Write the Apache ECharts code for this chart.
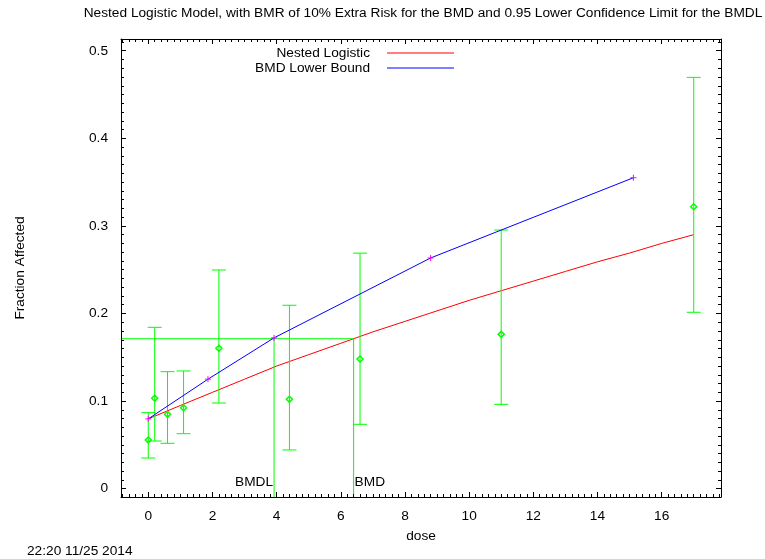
<!DOCTYPE html>
<html>
<head>
<meta charset="utf-8">
<script src="https://cdn.jsdelivr.net/npm/echarts@6/dist/echarts.min.js"></script>
<style>
  html, body { margin: 0; padding: 0; background: #ffffff; }
  #chart { width: 765px; height: 559px; }
</style>
</head>
<body>
<div id="chart"></div>
<script>
// Observed dose groups: mean fraction affected with confidence bars
const doses      = [0, 0.2, 0.6, 1.1, 2.2, 4.4, 6.6, 11, 17];
const observed   = [0.0556, 0.1032, 0.0849, 0.0925, 0.1603, 0.1020, 0.1480, 0.1762, 0.3219];
const lowerBars  = [0.0350, 0.0544, 0.0518, 0.0628, 0.0978, 0.0442, 0.0735, 0.0963, 0.2014];
const upperBars  = [0.0868, 0.1842, 0.1336, 0.1344, 0.2497, 0.2094, 0.2689, 0.2953, 0.4696];

// Fitted nested logistic model
const curveDoses  = [0, 1, 2, 3, 4, 5, 6, 7, 8, 9, 10, 11, 12, 13, 14, 15, 16, 17];
const curveValues = [0.0797, 0.095, 0.110, 0.125, 0.140, 0.153, 0.166, 0.179, 0.191,
                     0.203, 0.215, 0.226, 0.237, 0.248, 0.259, 0.269, 0.280, 0.290];

// BMD lower bound curve
const boundDoses  = [0, 1.86, 3.92, 8.8, 15.12];
const boundValues = [0.0797, 0.125, 0.1722, 0.2634, 0.355];

// Benchmark response level and doses
const bmrLevel = 0.1712;
const bmdl = 3.92;
const bmd = 6.4;

// Axis extents and tick spacing
const xMin = -0.85, xMax = 17.85, xStep = 2;
const yMin = -0.0095, yMax = 0.5134, yStep = 0.1;

const titleText = 'Nested Logistic Model, with BMR of 10% Extra Risk for the BMD and 0.95 Lower Confidence Limit for the BMDL';
const xName = 'dose';
const yName = 'Fraction Affected';
const stamp = '22:20 11/25 2014';

const FONT = '"Liberation Sans", Arial, sans-serif';
const FS = 13.7;
const GREEN = '#00ff00';

const chart = echarts.init(document.getElementById('chart'), null, { renderer: 'canvas' });

function frameAxis(extra) {
  return Object.assign({
    type: 'value',
    axisLine: { show: true, onZero: false, lineStyle: { color: '#000', width: 1 } },
    axisTick: { show: true, inside: true, length: 5, lineStyle: { color: '#000', width: 1 } },
    minorTick: { show: true, splitNumber: 10, length: 3, lineStyle: { color: '#000', width: 1 } },
    splitLine: { show: false },
    minorSplitLine: { show: false },
    axisLabel: { show: false },
    z: 10
  }, extra);
}

const labelStyle = { color: '#000', fontFamily: FONT, fontSize: FS, showMinLabel: false, showMaxLabel: false };
const nameStyle = { color: '#000', fontFamily: FONT, fontSize: FS };

const option = {
  animation: false,
  backgroundColor: '#ffffff',
  textStyle: { fontFamily: FONT },
  title: {
    text: titleText,
    left: 418, top: 1,
    textAlign: 'center',
    textStyle: { fontFamily: FONT, fontSize: FS, fontWeight: 'normal', color: '#000' }
  },
  grid: { left: 121, right: 44, top: 39, bottom: 62, containLabel: false },
  xAxis: [
    frameAxis({
      position: 'bottom', min: xMin, max: xMax, minInterval: xStep, maxInterval: xStep, splitNumber: 9,
      axisLabel: Object.assign({ show: true, margin: 12 }, labelStyle),
      name: xName, nameLocation: 'middle', nameGap: 32, nameTextStyle: nameStyle
    }),
    frameAxis({ position: 'top', min: xMin, max: xMax, minInterval: xStep, maxInterval: xStep, splitNumber: 9 })
  ],
  yAxis: [
    frameAxis({
      position: 'left', min: yMin, max: yMax, minInterval: yStep, maxInterval: yStep, splitNumber: 5,
      axisLabel: Object.assign({ show: true, margin: 13 }, labelStyle),
      name: yName, nameLocation: 'middle', nameGap: 94, nameTextStyle: nameStyle
    }),
    frameAxis({ position: 'right', min: yMin, max: yMax, minInterval: yStep, maxInterval: yStep, splitNumber: 5 })
  ],
  legend: [
    {
      data: ['Nested Logistic'], orient: 'vertical', align: 'right', right: 311, top: 46,
      icon: 'rect', itemWidth: 67, itemHeight: 1, padding: 0, selectedMode: false,
      textStyle: { color: '#000', fontFamily: FONT, fontSize: FS, padding: [0, 12, 0, 0] }
    },
    {
      data: ['BMD Lower Bound'], orient: 'vertical', align: 'right', right: 311, top: 61,
      icon: 'rect', itemWidth: 67, itemHeight: 1, padding: 0, selectedMode: false,
      textStyle: { color: '#000', fontFamily: FONT, fontSize: FS, padding: [0, 12, 0, 0] }
    }
  ],
  graphic: [
    {
      type: 'text', left: 27, top: 544,
      style: { text: stamp, fill: '#000', font: FS + 'px ' + FONT }
    }
  ],
  series: [
    {
      name: 'Nested Logistic', type: 'line', color: '#ff0000',
      data: curveDoses.map((d, i) => [d, curveValues[i]]),
      symbol: 'none', lineStyle: { width: 1, color: '#ff0000' }, z: 3
    },
    {
      name: 'Observed', type: 'custom',
      data: doses.map((d, i) => [d, lowerBars[i], observed[i], upperBars[i]]),
      renderItem: function (params, api) {
        const x = api.value(0);
        const lo = api.coord([x, api.value(1)]);
        const mid = api.coord([x, api.value(2)]);
        const hi = api.coord([x, api.value(3)]);
        const cap = 7, r = 3;
        const st = { stroke: GREEN, lineWidth: 1, fill: 'none' };
        return {
          type: 'group',
          children: [
            { type: 'line', shape: { x1: lo[0], y1: lo[1], x2: hi[0], y2: hi[1] }, style: st },
            { type: 'line', shape: { x1: lo[0] - cap, y1: lo[1], x2: lo[0] + cap, y2: lo[1] }, style: st },
            { type: 'line', shape: { x1: hi[0] - cap, y1: hi[1], x2: hi[0] + cap, y2: hi[1] }, style: st },
            { type: 'polygon', shape: { points: [[mid[0], mid[1] - r], [mid[0] + r, mid[1]], [mid[0], mid[1] + r], [mid[0] - r, mid[1]]] }, style: { stroke: GREEN, lineWidth: 1.5, fill: 'none' } }
          ]
        };
      },
      z: 4
    },
    {
      name: 'BMD', type: 'custom',
      data: [[bmdl, bmd, bmrLevel]],
      renderItem: function (params, api) {
        const lvl = api.value(2);
        const left = api.coord([xMin, lvl]);
        const pL = api.coord([api.value(0), lvl]);
        const pD = api.coord([api.value(1), lvl]);
        const bL = api.coord([api.value(0), yMin]);
        const bD = api.coord([api.value(1), yMin]);
        const z0 = api.coord([api.value(0), 0]);
        const st = { stroke: GREEN, lineWidth: 1 };
        const tf = FS + 'px ' + FONT;
        return {
          type: 'group',
          children: [
            { type: 'line', shape: { x1: left[0], y1: left[1], x2: pD[0], y2: pD[1] }, style: st },
            { type: 'line', shape: { x1: bL[0], y1: bL[1], x2: pL[0], y2: pL[1] }, style: st },
            { type: 'line', shape: { x1: bD[0], y1: bD[1], x2: pD[0], y2: pD[1] }, style: st },
            { type: 'text', x: pL[0] - 1, y: z0[1] + 1, style: { text: 'BMDL', fill: '#000', font: tf, align: 'right', verticalAlign: 'bottom' } },
            { type: 'text', x: pD[0] + 1, y: z0[1] + 1, style: { text: 'BMD', fill: '#000', font: tf, align: 'left', verticalAlign: 'bottom' } }
          ]
        };
      },
      z: 5
    },
    {
      name: 'BMD Lower Bound', type: 'line', color: '#0000ff',
      data: boundDoses.map((d, i) => [d, boundValues[i]]),
      symbol: 'none', lineStyle: { width: 1, color: '#0000ff' }, z: 6
    },
    {
      name: 'Bound points', type: 'custom',
      data: boundDoses.map((d, i) => [d, boundValues[i]]),
      renderItem: function (params, api) {
        const p = api.coord([api.value(0), api.value(1)]);
        const s = 3;
        const st = { stroke: '#ff00ff', lineWidth: 1 };
        return {
          type: 'group',
          children: [
            { type: 'line', shape: { x1: p[0] - s, y1: p[1], x2: p[0] + s, y2: p[1] }, style: st },
            { type: 'line', shape: { x1: p[0], y1: p[1] - s, x2: p[0], y2: p[1] + s }, style: st }
          ]
        };
      },
      z: 7
    }
  ]
};

chart.setOption(option);
</script>
</body>
</html>
